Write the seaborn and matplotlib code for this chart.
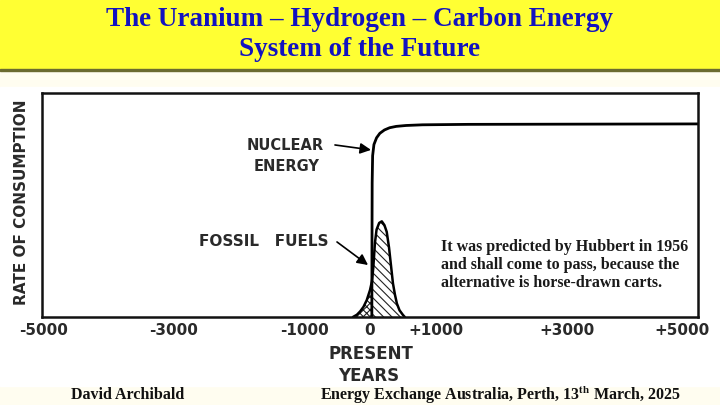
import matplotlib.pyplot as plt
import matplotlib.patches as mpatches
import matplotlib.transforms as mtransforms
import seaborn as sns

# values (years vs relative rate of consumption)
nuclear_years = [28, 30, 33, 40, 60, 100, 150, 220, 300, 400, 550, 800, 1500, 5000]
nuclear_rate = [0.0, 0.30, 0.60, 0.72, 0.77, 0.80, 0.82, 0.835, 0.845, 0.851, 0.855, 0.858, 0.86, 0.862]

fossil_years = [-260, -200, -150, -100, -50, 0, 30, 50, 75, 100, 140, 180, 220, 255,
                290, 320, 350, 380, 410, 450, 500, 530]
fossil_rate = [0.0, 0.01, 0.025, 0.045, 0.075, 0.12, 0.16, 0.22, 0.33, 0.39, 0.42, 0.427,
               0.41, 0.38, 0.31, 0.23, 0.15, 0.10, 0.06, 0.03, 0.01, 0.0]

tick_years = list(range(-5000, 5001, 1000))
tick_labels = ["-5000", "", "-3000", "", "-1000", "0", "+1000", "", "+3000", "", "+5000"]

title_lines = ["The Uranium \u2013 Hydrogen \u2013 Carbon Energy", "System of the Future"]
note = ("It was predicted by Hubbert in 1956\n"
        "and shall come to pass, because the\n"
        "alternative is horse-drawn carts.")

sns.set_style("white")
plt.rcParams["font.family"] = ["DejaVu Sans"]
plt.rcParams["hatch.linewidth"] = 0.8
plt.rcParams["mathtext.fontset"] = "stix"

W, H = 720, 405
fig = plt.figure(figsize=(7.2, 4.05), dpi=100, facecolor="#fffdf0")

# white picture panel and yellow banner (behind the axes)
fig.patches.append(mpatches.Rectangle((0, 1 - 386 / H), 1, (386 - 87) / H,
                                      transform=fig.transFigure, color="white", zorder=-5))
fig.patches.append(mpatches.Rectangle((0, 1 - 69 / H), 1, 69 / H,
                                      transform=fig.transFigure, color="#ffff33", zorder=-5))
fig.patches.append(mpatches.Rectangle((0, 1 - 71 / H), 1, 2 / H,
                                      transform=fig.transFigure, color="#6b6b30", zorder=-5))

ax = fig.add_axes([42 / W, 1 - 317 / H, 656 / W, 224 / H])
ax.set_facecolor("white")

# fossil fuels bell, hatched
split = 28
left_x = [x for x in fossil_years if x <= split]
left_y = [y for x, y in zip(fossil_years, fossil_rate) if x <= split]
right_x = [x for x in fossil_years if x >= split]
right_y = [y for x, y in zip(fossil_years, fossil_rate) if x >= split]
ax.fill_between(left_x + [split], left_y + [0.158], 0, facecolor="none",
                edgecolor="#222222", hatch="xxxxx", linewidth=0)
ax.fill_between([split] + right_x, [0.158] + right_y, 0, facecolor="none",
                edgecolor="#222222", hatch="\\\\\\\\", linewidth=0)
sns.lineplot(x=fossil_years, y=fossil_rate, ax=ax, color="black", lw=1.8, sort=False)

# nuclear energy
sns.lineplot(x=nuclear_years, y=nuclear_rate, ax=ax, color="black", lw=2, sort=False)

ax.set_xlim(-5000, 5000)
ax.set_ylim(0, 1)
ax.set_xticks(tick_years)
ax.set_xticklabels(tick_labels, fontsize=11, fontweight="bold", color="#2a2a2a")
ax.set_yticks([])
ax.tick_params(axis="x", direction="in", length=7, width=1.2, pad=4, color="#222222")
# end labels sit a little inward in the original
labels = ax.get_xticklabels()
labels[0].set_transform(labels[0].get_transform() +
                        mtransforms.ScaledTranslation(2 / 100, 0, fig.dpi_scale_trans))
labels[-1].set_transform(labels[-1].get_transform() +
                         mtransforms.ScaledTranslation(-16 / 100, 0, fig.dpi_scale_trans))
for s in ax.spines.values():
    s.set_visible(True)
    s.set_color("#111111")
    s.set_linewidth(1.8)

lab = dict(fontsize=10.5, fontweight="bold", color="#2a2a2a", ha="center", va="center")
ax.text(-1300, 0.764, "NUCLEAR", **lab)
ax.text(-1270, 0.670, "ENERGY", **lab)
ax.text(-1620, 0.335, "FOSSIL   FUELS", fontsize=11, fontweight="bold", color="#2a2a2a",
        ha="center", va="center")

arrow = dict(arrowstyle="-|>", color="black", lw=1.2, mutation_scale=16, shrinkA=0, shrinkB=0)
ax.annotate("", xy=(15, 0.746), xytext=(-534, 0.768), arrowprops=arrow)
ax.annotate("", xy=(-30, 0.232), xytext=(-503, 0.335), arrowprops=arrow)

ax.text(1085, 0.35, note, fontsize=11.5, fontweight="bold", family="Liberation Serif",
        color="#1a1a1a", ha="left", va="top", linespacing=1.2)

fig.text(22 / W, 1 - 202 / H, "RATE OF CONSUMPTION", rotation=90, fontsize=11,
         fontweight="bold", color="#2a2a2a", ha="center", va="center")
fig.text(371 / W, 1 - 354 / H, "PRESENT", fontsize=12, fontweight="bold", color="#2a2a2a",
         ha="center", va="center")
fig.text(369 / W, 1 - 376 / H, "YEARS", fontsize=12, fontweight="bold", color="#2a2a2a",
         ha="center", va="center")

for i, t in enumerate(title_lines):
    fig.text(360 / W, 1 - (20 + 30 * i) / H, t, fontsize=19.5, fontweight="bold",
             family="Liberation Serif", color="#1212c0", ha="center", va="center")

foot = dict(fontsize=11.5, fontweight="bold", family="Liberation Serif", color="#111111",
            ha="center", va="center")
fig.text(128 / W, 1 - 395 / H, "David Archibald", **foot)
fig.text(501 / W, 1 - 395 / H, r"Energy Exchange Australia, Perth, 13$^{\mathbf{th}}$ March, 2025", **foot)

fig.savefig("out.png", dpi=100, facecolor=fig.get_facecolor())
